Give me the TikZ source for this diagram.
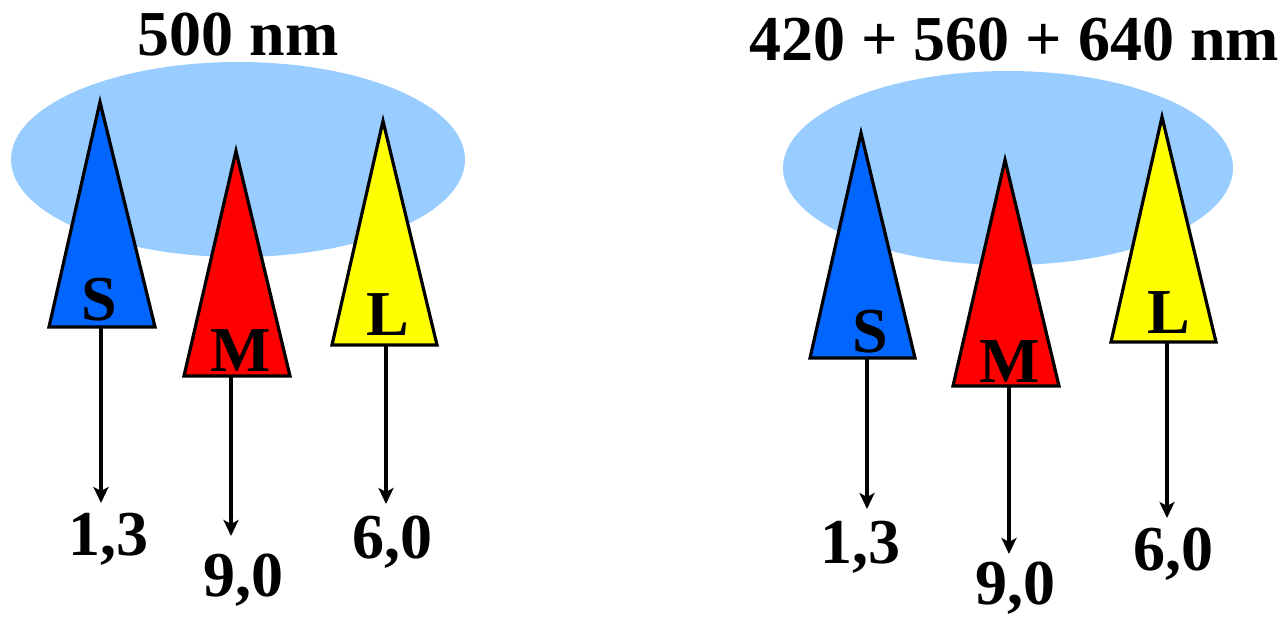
\documentclass[tikz,border=0pt]{standalone}
\usepackage{fontspec}
\setmainfont{Liberation Serif}
\usetikzlibrary{arrows.meta}
\definecolor{skyblue}{HTML}{99CCFF}
\definecolor{sblue}{HTML}{0066FF}
\definecolor{mred}{HTML}{FF0000}
\definecolor{lyellow}{HTML}{FFFF00}
\tikzset{
  big/.style={font=\fontsize{64}{68}\selectfont\bfseries, inner sep=0pt, anchor=base},
  cone/.style={draw=black, line width=3.2pt, line join=miter},
  blob/.style={fill=skyblue, draw=none},
  sig/.style={line width=3.6pt, -{Stealth[length=16pt,width=15pt,inset=4pt]}}
}
\begin{document}
\begin{tikzpicture}[x=1pt,y=-1pt]
\useasboundingbox (0,0) rectangle (1287,616);
% ---------- left panel ----------
\node[big] (t1) at (238,55) {500 nm};
\fill[blob] (238,159.5) ellipse [x radius=227, y radius=97.5];
\draw[cone, fill=sblue] (100,102) -- (155,327) -- (49,327) -- cycle;
\draw[cone, fill=mred] (236,151) -- (290,376) -- (184,376) -- cycle;
\draw[cone, fill=lyellow] (383,121) -- (437,345) -- (332,345) -- cycle;
\node[big] (s1) at (99,320) {S};
\node[big] (m1) at (241,371) {M};
\node[big] (l1) at (388,335) {L};
\coordinate (s1b) at (101,327);
\coordinate (m1b) at (231,376);
\coordinate (l1b) at (386,345);
\coordinate (s1t) at (101,503);
\coordinate (m1t) at (231,536);
\coordinate (l1t) at (386,504);
\draw[sig] (s1b) -- (s1t);
\draw[sig] (m1b) -- (m1t);
\draw[sig] (l1b) -- (l1t);
\node[big] (v1s) at (108,555) {1,3};
\node[big] (v1m) at (243,596) {9,0};
\node[big] (v1l) at (392,558) {6,0};
% ---------- right panel ----------
\node[big] (t2) at (1014,60) {420 + 560 + 640 nm};
\fill[blob] (1008,168) ellipse [x radius=225, y radius=97];
\draw[cone, fill=sblue] (861,133) -- (915,358) -- (810,358) -- cycle;
\draw[cone, fill=mred] (1005,160) -- (1059,386) -- (953,386) -- cycle;
\draw[cone, fill=lyellow] (1162,117) -- (1216,342) -- (1111,342) -- cycle;
\node[big] (s2) at (870,352) {S};
\node[big] (m2) at (1010,382) {M};
\node[big] (l2) at (1169,333) {L};
\coordinate (s2b) at (867,358);
\coordinate (m2b) at (1009,386);
\coordinate (l2b) at (1167,342);
\coordinate (s2t) at (867,509);
\coordinate (m2t) at (1009,554);
\coordinate (l2t) at (1167,518);
\draw[sig] (s2b) -- (s2t);
\draw[sig] (m2b) -- (m2t);
\draw[sig] (l2b) -- (l2t);
\node[big] (v2s) at (860,563) {1,3};
\node[big] (v2m) at (1015,604) {9,0};
\node[big] (v2l) at (1173,570) {6,0};
\end{tikzpicture}
\end{document}
